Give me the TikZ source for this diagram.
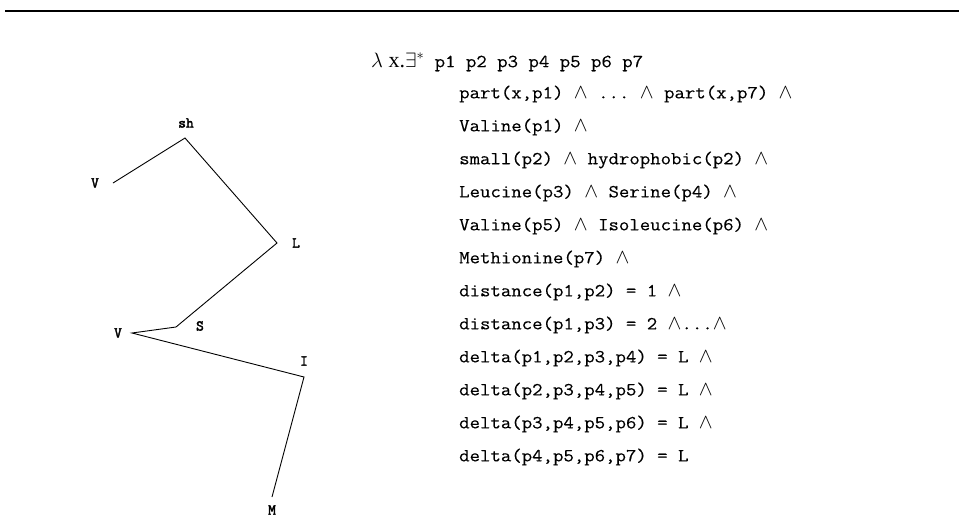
\documentclass[tikz,border=0pt]{standalone}
\usepackage{fontspec}
\setmainfont{Liberation Serif}
\setmonofont[FakeStretch=1.1,FakeBold=0.3]{Latin Modern Mono}
\newfontfamily\labfont[FakeBold=2.5]{Latin Modern Mono}
\newcommand{\AND}{{\fontsize{22}{22}\selectfont$\wedge$}}
\begin{document}
\begin{tikzpicture}[x=1pt,y=-1pt,
  formula/.style={anchor=west,inner sep=0pt,font=\fontsize{18.4}{20}\selectfont\ttfamily},
  reslab/.style={inner sep=0pt,font=\fontsize{15}{16}\selectfont\labfont},
  chainline/.style={line width=0.9pt,line join=miter},
  rulebar/.style={line width=2.5pt}]
\useasboundingbox (0,0) rectangle (959,520);
% top rule
\coordinate (ruleL) at (5,11);
\coordinate (ruleR) at (959,11);
\draw[rulebar] (ruleL) -- (ruleR);
% residue chain
\coordinate (p1) at (113,183);
\coordinate (p2) at (185,138);
\coordinate (p3) at (277,243);
\coordinate (p4) at (176,327);
\coordinate (p5) at (132,333);
\coordinate (p6) at (304,377);
\coordinate (p7) at (272,497);
\draw[chainline] (p1) -- (p2) -- (p3) -- (p4) -- (p5) -- (p6) -- (p7);
\node[reslab] (l1) at (95,183) {V};
\node[reslab] (l2) at (186,123) {sh};
\node[reslab] (l3) at (296,243) {L};
\node[reslab] (l4) at (200,326) {S};
\node[reslab] (l5) at (118,333) {V};
\node[reslab] (l6) at (304,361) {I};
\node[reslab] (l7) at (272,510) {M};
% formula
\node[formula] (h) at (371,62) {{\fontsize{22}{22}\selectfont\rmfamily$\lambda$ x.$\exists^{*}$}\ttfamily{} p1 p2 p3 p4 p5 p6 p7};
\node[formula] (f1) at (459,94) {part(x,p1) \AND{} ... \AND{} part(x,p7) \AND};
\node[formula] (f2) at (459,127) {Valine(p1) \AND};
\node[formula] (f3) at (459,160) {small(p2) \AND{} hydrophobic(p2) \AND};
\node[formula] (f4) at (459,193) {Leucine(p3) \AND{} Serine(p4) \AND};
\node[formula] (f5) at (459,226) {Valine(p5) \AND{} Isoleucine(p6) \AND};
\node[formula] (f6) at (459,259) {Methionine(p7) \AND};
\node[formula] (f7) at (459,292) {distance(p1,p2) = 1 \AND};
\node[formula] (f8) at (459,325) {distance(p1,p3) = 2 \AND...\AND};
\node[formula] (f9) at (459,358) {delta(p1,p2,p3,p4) = L \AND};
\node[formula] (f10) at (459,391) {delta(p2,p3,p4,p5) = L \AND};
\node[formula] (f11) at (459,424) {delta(p3,p4,p5,p6) = L \AND};
\node[formula] (f12) at (459,457) {delta(p4,p5,p6,p7) = L};
\end{tikzpicture}
\end{document}
